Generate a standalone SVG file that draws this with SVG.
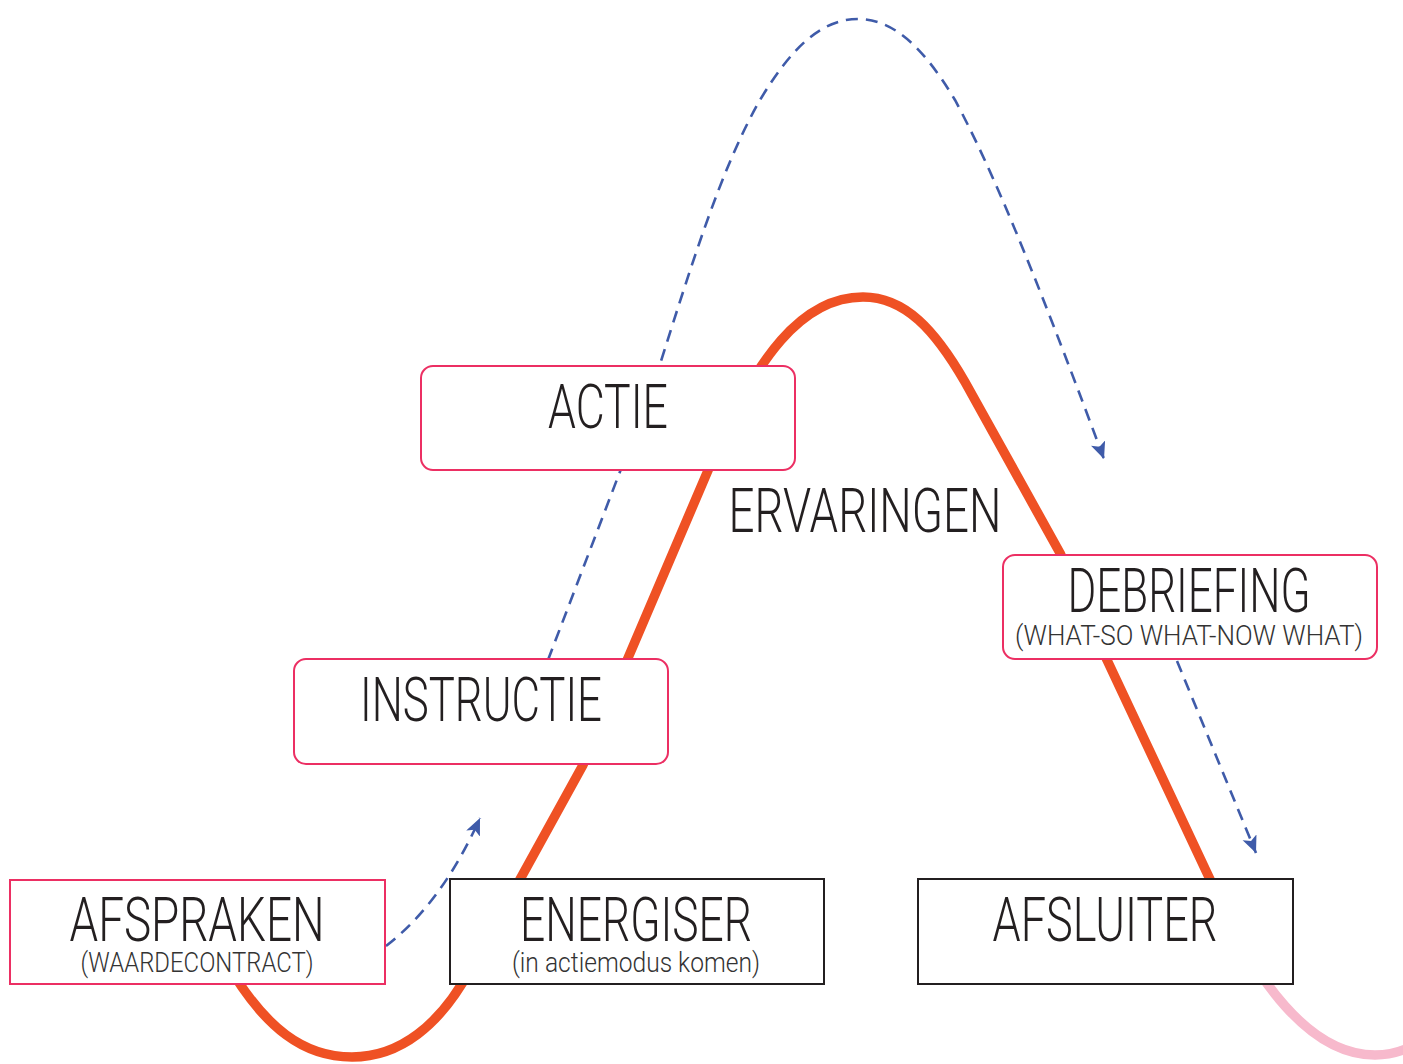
<svg xmlns="http://www.w3.org/2000/svg" width="1403" height="1064" viewBox="0 0 1403 1064">
<defs>
<marker id="ah" markerUnits="userSpaceOnUse" markerWidth="20" markerHeight="16" refX="17" refY="7.5" orient="auto">
<path d="M0,0 L17,7.5 L0,15 L4,7.5 z" fill="#3F5BA9"/>
</marker>
<style>
.bg{fill:#ffffff}
.curve{fill:none;stroke:#EF5124;stroke-width:9.5;stroke-linecap:butt;stroke-linejoin:round}
.curve2{fill:none;stroke:#F7B9CC;stroke-width:9.5}
.dash{fill:none;stroke:#3F5BA9;stroke-width:2.6;stroke-dasharray:12 8}
.pbox{fill:#ffffff;stroke:#EC2F63;stroke-width:2}
.kbox{fill:#ffffff;stroke:#231F20;stroke-width:2}
.t{font-family:Roboto,"Liberation Sans",sans-serif;font-weight:300;fill:#231F20;text-anchor:middle}
.big{font-size:62px}
.small{font-size:28px;fill:#333333}
</style>
</defs>
<rect class="bg" x="0" y="0" width="1403" height="1064"/>
<g id="connectors">
<path class="curve" d="M 225,960 C 265,1030 305,1057 352,1057 C 400,1057 440,1025 470,970 L 583,765 L 628,658 L 718,447 C 756,362 800,297 863,297 C 905,297 935,330 965,382 L 1060,553 L 1107,660 L 1215,890"/>
<path class="curve2" d="M 1212,884 C 1255,982 1310,1055 1375,1055 C 1390,1055 1400,1052 1410,1047"/>
<path class="dash" d="M 386,946 Q 442,903 480,818" marker-end="url(#ah)"/>
<path class="dash" d="M 548,660 L 655,380 C 690,270 720,170 760,100 C 790,50 820,19 858,19 C 895,19 925,50 955,100 C 990,165 1030,260 1104,459" marker-end="url(#ah)"/>
<path class="dash" d="M 1177,661 L 1256,853" marker-end="url(#ah)"/>
</g>
<g id="node-afspraken">
<rect class="pbox" x="10" y="880" width="375" height="104"/>
<text class="t"><tspan class="big" x="197" y="941" textLength="255" lengthAdjust="spacingAndGlyphs">AFSPRAKEN</tspan><tspan class="small" x="197" y="972" textLength="233" lengthAdjust="spacingAndGlyphs">(WAARDECONTRACT)</tspan></text>
</g>
<g id="node-energiser">
<rect class="kbox" x="450" y="879" width="374" height="105"/>
<text class="t"><tspan class="big" x="636" y="941" textLength="232" lengthAdjust="spacingAndGlyphs">ENERGISER</tspan><tspan class="small" x="636" y="972" textLength="248" lengthAdjust="spacingAndGlyphs">(in actiemodus komen)</tspan></text>
</g>
<g id="node-afsluiter">
<rect class="kbox" x="918" y="879" width="375" height="105"/>
<text class="t big" x="1105" y="941" textLength="225" lengthAdjust="spacingAndGlyphs">AFSLUITER</text>
</g>
<g id="node-instructie">
<rect class="pbox" x="294" y="659" width="374" height="105" rx="12"/>
<text class="t big" x="481" y="721" textLength="242" lengthAdjust="spacingAndGlyphs">INSTRUCTIE</text>
</g>
<g id="node-actie">
<rect class="pbox" x="421" y="366" width="374" height="104" rx="12"/>
<text class="t big" x="608" y="428" textLength="120" lengthAdjust="spacingAndGlyphs">ACTIE</text>
</g>
<g id="node-debriefing">
<rect class="pbox" x="1003" y="555" width="374" height="104" rx="12"/>
<text class="t"><tspan class="big" x="1189" y="612" textLength="243" lengthAdjust="spacingAndGlyphs">DEBRIEFING</tspan><tspan class="small" x="1189" y="645" textLength="348" lengthAdjust="spacingAndGlyphs">(WHAT-SO WHAT-NOW WHAT)</tspan></text>
</g>
<g id="label-ervaringen">
<text class="t big" x="865" y="532" textLength="273" lengthAdjust="spacingAndGlyphs">ERVARINGEN</text>
</g>
</svg>
